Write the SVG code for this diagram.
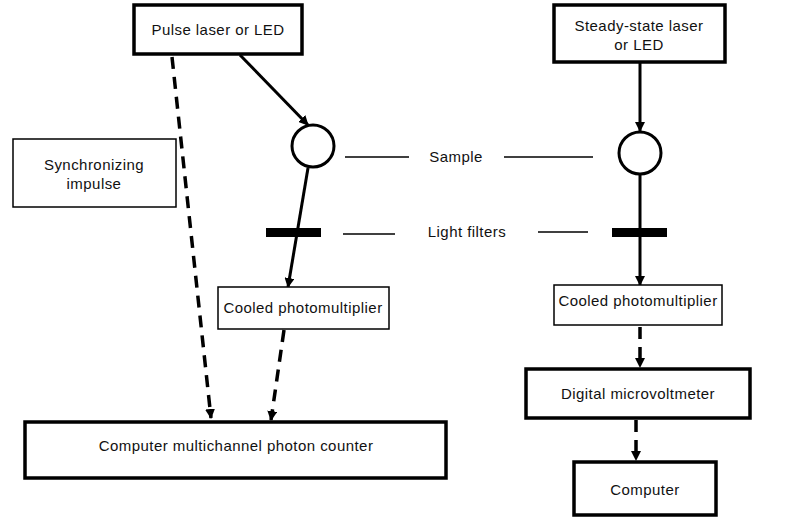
<svg xmlns="http://www.w3.org/2000/svg" width="787" height="527" viewBox="0 0 787 527">
<style>
text{font-family:"Liberation Sans",Arial,sans-serif;font-size:15px;letter-spacing:0.45px;fill:#111;text-anchor:middle}
.thick{fill:#fff;stroke:#000;stroke-width:3.5}
.thin{fill:#fff;stroke:#000;stroke-width:1.5}
.solid{stroke:#000;stroke-width:3;fill:none}
.dash{stroke:#000;stroke-width:3.5;fill:none;stroke-dasharray:12 8}
.lead{stroke:#000;stroke-width:1.5}
</style>
<defs>
<marker id="ah" viewBox="0 0 10 10" refX="9" refY="5" markerWidth="10" markerHeight="10" markerUnits="userSpaceOnUse" orient="auto">
<path d="M0,0 L10,5 L0,10 z" fill="#000"/>
</marker>
</defs>
<rect width="787" height="527" fill="#fff"/>
<g id="connectors">
<line class="solid" x1="240" y1="55" x2="308" y2="125" marker-end="url(#ah)"/>
<line class="solid" x1="308" y1="168" x2="288" y2="287" marker-end="url(#ah)"/>
<line class="solid" x1="640" y1="62" x2="640" y2="131" marker-end="url(#ah)"/>
<line class="solid" x1="640" y1="175" x2="640" y2="285" marker-end="url(#ah)"/>
<line class="dash" x1="172" y1="57" x2="211" y2="418" marker-end="url(#ah)"/>
<line class="dash" x1="284" y1="330" x2="271" y2="420" marker-end="url(#ah)"/>
<line class="dash" x1="640" y1="327" x2="640" y2="367" marker-end="url(#ah)"/>
<line class="dash" x1="636" y1="420" x2="636" y2="460" marker-end="url(#ah)"/>
<line class="lead" x1="345" y1="157" x2="409" y2="157"/>
<line class="lead" x1="504" y1="157" x2="593" y2="157"/>
<line class="lead" x1="343" y1="234" x2="395" y2="234"/>
<line class="lead" x1="538" y1="232" x2="588" y2="232"/>
</g>
<g id="pulse-laser"><rect class="thick" x="134" y="5" width="168" height="49"/><text x="218" y="35">Pulse laser or LED</text></g>
<g id="steady-laser"><rect class="thick" x="554" y="5" width="171" height="57"/><text x="639" y="31">Steady-state laser</text><text x="639" y="50">or LED</text></g>
<g id="sync"><rect class="thin" x="13" y="139" width="163" height="68"/><text x="94" y="170">Synchronizing</text><text x="94" y="189">impulse</text></g>
<g id="sample-left"><circle cx="313" cy="146" r="21" fill="#fff" stroke="#000" stroke-width="3"/></g>
<g id="sample-right"><circle cx="640" cy="153" r="21" fill="#fff" stroke="#000" stroke-width="3"/></g>
<g id="sample-label"><text x="456" y="162">Sample</text></g>
<g id="filter-left"><rect x="266" y="228" width="55" height="9" fill="#000"/></g>
<g id="filter-right"><rect x="612" y="228" width="55" height="9" fill="#000"/></g>
<g id="filter-label"><text x="467" y="237">Light filters</text></g>
<g id="pmt-left"><rect class="thin" x="218" y="287" width="171" height="42"/><text x="303" y="313">Cooled photomultiplier</text></g>
<g id="pmt-right"><rect class="thin" x="554" y="285" width="168" height="40"/><text x="638" y="306">Cooled photomultiplier</text></g>
<g id="counter"><rect class="thick" x="25" y="422" width="421" height="56"/><text x="236" y="451">Computer multichannel photon counter</text></g>
<g id="microvoltmeter"><rect class="thick" x="526" y="369" width="224" height="49"/><text x="638" y="399">Digital microvoltmeter</text></g>
<g id="computer"><rect class="thick" x="574" y="462" width="142" height="53"/><text x="645" y="495">Computer</text></g>
</svg>
